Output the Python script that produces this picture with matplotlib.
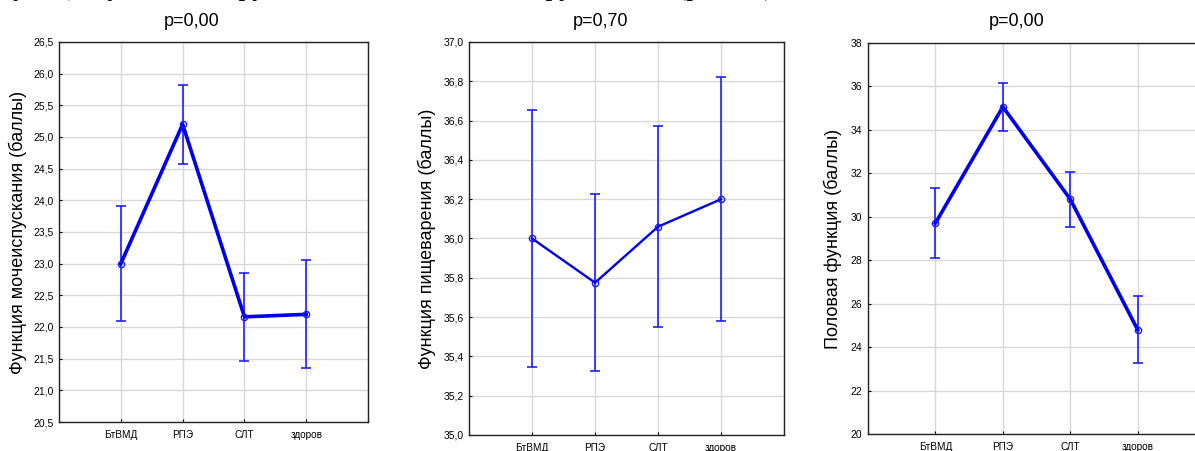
import matplotlib
matplotlib.use("Agg")
import matplotlib.pyplot as plt

plt.rcParams['font.family'] = ['Liberation Sans', 'DejaVu Sans']

groups = ['БтВМД', 'РПЭ', 'СЛТ', 'здоров']

# panel 1: urination
urin_mean = [23.0, 25.2, 22.16, 22.2]
urin_err = [0.91, 0.62, 0.70, 0.85]
# panel 2: digestion
dig_mean = [36.0, 35.775, 36.06, 36.2]
dig_err = [0.655, 0.45, 0.51, 0.62]
# panel 3: sexual function
sex_mean = [29.71, 35.06, 30.81, 24.8]
sex_err = [1.63, 1.12, 1.27, 1.53]

p_labels = ['p=0,00', 'p=0,70', 'p=0,00']
ylabels = ['Функция мочеиспускания (баллы)',
           'Функция пищеварения (баллы)',
           'Половая функция (баллы)']
ylims = [(20.5, 26.5), (35.0, 37.0), (20, 38)]
ysteps = [0.5, 0.2, 2]
ydec = [1, 1, 0]
line_w = [2.6, 1.7, 2.6]

# axes rects (figure fraction) and title / ylabel x positions
rects = [[0.0494, 0.0643, 0.2586, 0.8426],
         [0.3925, 0.0355, 0.2636, 0.8714],
         [0.7264, 0.0377, 0.2820, 0.8670]]
title_x = [192 / 1195, 601 / 1195, 1017 / 1195]
ylab_x = [18 / 1195, 427 / 1195, 833 / 1195]

fig = plt.figure(figsize=(11.95, 4.51), dpi=100)

data = [(urin_mean, urin_err), (dig_mean, dig_err), (sex_mean, sex_err)]
x = [1, 2, 3, 4]

for i, (means, errs) in enumerate(data):
    ax = fig.add_axes(rects[i])
    ax.errorbar(x, means, yerr=errs, fmt='none', ecolor='#2020ff',
                elinewidth=1.2, capsize=3.5, capthick=1.2, zorder=3)
    ax.plot(x, means, color='#0000ee', lw=line_w[i], zorder=4)
    ax.plot(x, means, 'o', ms=4.5, mfc='none', mec='#1a1aff', mew=1.0, zorder=5)

    lo, hi = ylims[i]
    ax.set_ylim(lo, hi)
    ax.set_xlim(0, 5)
    n = int(round((hi - lo) / ysteps[i]))
    yt = [lo + k * ysteps[i] for k in range(n + 1)]
    ax.set_yticks(yt)
    if ydec[i]:
        ax.set_yticklabels([f'{v:.1f}'.replace('.', ',') for v in yt])
    else:
        ax.set_yticklabels([f'{v:.0f}' for v in yt])
    ax.set_xticks([0, 1, 2, 3, 4, 5])
    ax.set_xticklabels([''] + groups + [''])
    ax.tick_params(axis='y', labelsize=7.5, length=2.5, width=0.8,
                   direction='in', colors='black', pad=4)
    ax.tick_params(axis='x', labelsize=7.2, length=2.5, width=0.8,
                   direction='in', colors='black', pad=6)
    ax.grid(True, color='#d8d8d8', lw=1.0)
    ax.set_axisbelow(True)
    for s in ax.spines.values():
        s.set_color('#222222')
        s.set_linewidth(1.0)

    fig.text(title_x[i], 1 - 22 / 451, p_labels[i], ha='center', va='center',
             fontsize=13)
    fig.text(ylab_x[i], rects[i][1] + rects[i][3] / 2, ylabels[i], rotation=90,
             ha='center', va='center', fontsize=13)

# caption line above the charts, cut off at the top edge (only descenders show)
serif = ['Liberation Serif', 'DejaVu Serif']
cap_y = 1 + 5 / 451
fig.text(121 / 1195, cap_y, 'Функции у', ha='right', va='baseline',
         fontsize=20, family=serif)
fig.text(227 / 1195, cap_y, 'групп больных и', ha='left', va='baseline',
         fontsize=20, family=serif)
fig.text(534 / 1195, cap_y, 'группах', ha='left', va='baseline',
         fontsize=20, family=serif)
fig.text(677 / 1195, cap_y, '(р = 0,0)', ha='left', va='baseline',
         fontsize=20, family=serif)

fig.savefig('out.png', dpi=100)
